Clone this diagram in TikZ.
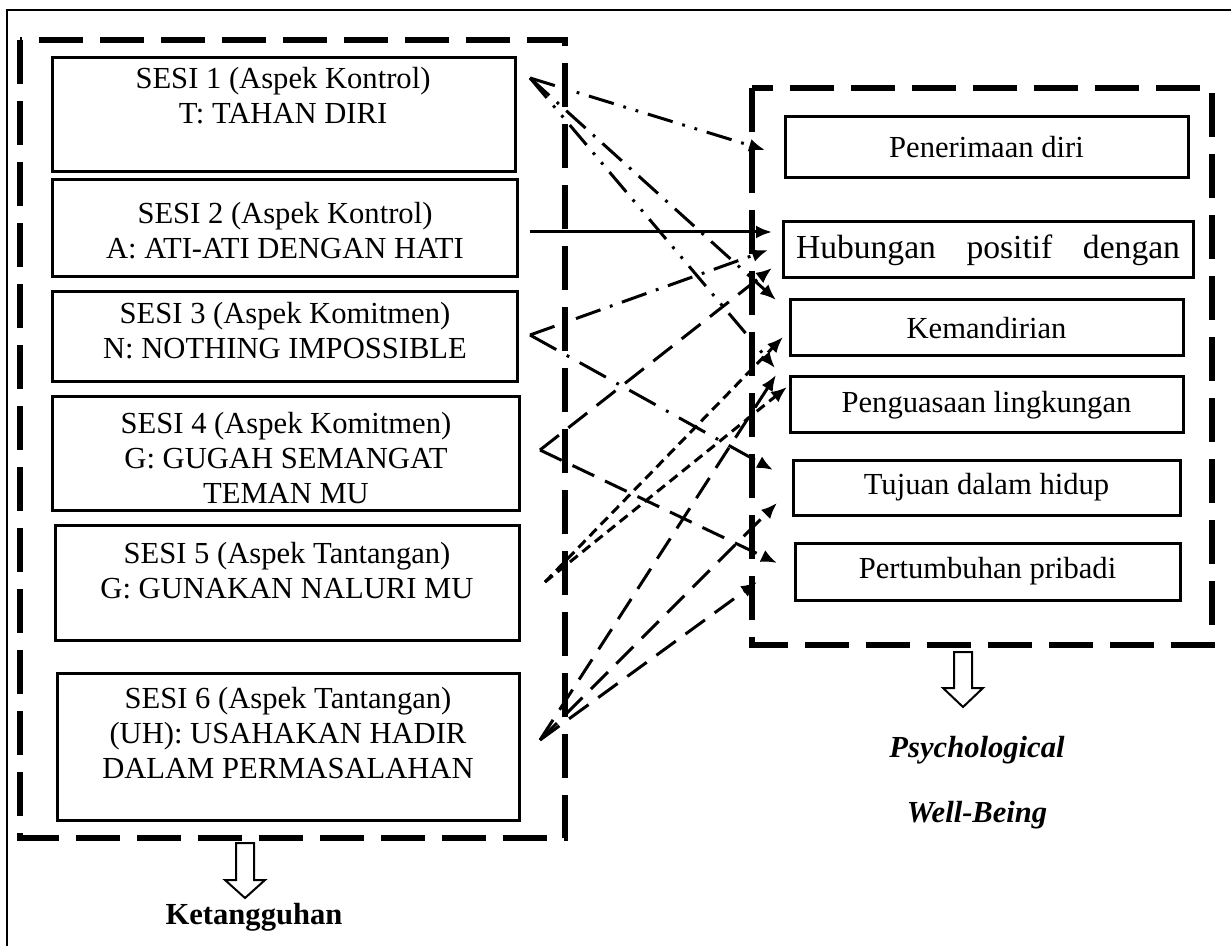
\documentclass[tikz,border=0pt]{standalone}
\usepackage{fontspec}
\setmainfont{Liberation Serif}
\usetikzlibrary{arrows.meta}
\newcommand\mybox[5]{\node[box, minimum width={(#4-#2)*0.5pt}, minimum height={(#5-#3)*0.5pt}] (#1) at ({(#2+#4)/2},{(#3+#5)/2}) {};}
\newcommand\myrbox[6]{\node[box, rtxt, minimum width={(#4-#2)*0.5pt}, minimum height={(#5-#3)*0.5pt}] (#1) at ({(#2+#4)/2},{(#3+#5)/2}) {#6};}
\begin{document}
\begin{tikzpicture}[x=0.5pt,y=-0.5pt,
  outerframe/.style={line width=1pt},
  grp/.style={line width=2.6pt, dash pattern=on 22pt off 8.5pt},
  box/.style={draw, line width=1.5pt, inner sep=0pt},
  txt/.style={font=\fontsize{15.3}{17.5}\selectfont, align=center, inner sep=0pt, anchor=north},
  rtxt/.style={font=\fontsize{15.3}{17.5}\selectfont},
  con/.style={line width=1.5pt, -{Latex[length=8pt,width=6.5pt]}},
  ddot/.style={dash pattern=on 13pt off 5pt on 1.4pt off 5pt on 1.4pt off 5pt},
  dashdot/.style={dash pattern=on 13pt off 5pt on 1.4pt off 5pt},
  ldashdot/.style={dash pattern=on 15pt off 6pt on 1.4pt off 6pt},
  ldash/.style={dash pattern=on 12pt off 6pt},
  sdash/.style={dash pattern=on 5pt off 3pt},
  hollow/.style={line width=1pt, fill=white},
  lbl/.style={font=\fontsize{15.3}{17.5}\selectfont\bfseries, inner sep=0pt}
]
\useasboundingbox (0,0) rectangle (1231,946);
\fill[white] (0,0) rectangle (1231,946);
% outer frame
\draw[outerframe] (7,946) -- (7,10) -- (1231,10);
% group frames
\draw[grp] (20,40) rectangle (565,838);
\draw[grp] (752,88) rectangle (1212,645);
% left texts
\node[txt] (t1) at (283,67) {SESI 1 (Aspek Kontrol)\\T: TAHAN DIRI};
\node[txt] (t2) at (285,202) {SESI 2 (Aspek Kontrol)\\A: ATI-ATI DENGAN HATI};
\node[txt] (t3) at (285,302) {SESI 3 (Aspek Komitmen)\\N: NOTHING IMPOSSIBLE};
\begin{scope}
\clip (52,397) rectangle (519,505);
\node[txt] (t4) at (286,412) {SESI 4 (Aspek Komitmen)\\G: GUGAH SEMANGAT\\TEMAN MU};
\end{scope}
\node[txt] (t5) at (287,542) {SESI 5 (Aspek Tantangan)\\G: GUNAKAN NALURI MU};
\node[txt] (t6) at (288,687) {SESI 6 (Aspek Tantangan)\\(UH): USAHAKAN HADIR\\DALAM PERMASALAHAN};
% left boxes
\mybox{s1}{52}{58}{515}{172}
\mybox{s2}{52}{180}{517}{277}
\mybox{s3}{52}{292}{517}{382}
\mybox{s4}{52}{397}{519}{510}
\mybox{s5}{55}{525}{519}{640}
\mybox{s6}{57}{673}{519}{820}
% right boxes
\myrbox{pen}{785}{117}{1188}{178}{Penerimaan diri}
\myrbox{hub}{783}{222}{1193}{278}{\fontsize{16.8}{19}\selectfont\makebox[192pt][s]{Hubungan\hfill positif\hfill dengan}}
\myrbox{kem}{790}{300}{1183}{356}{Kemandirian}
\myrbox{peng}{790}{377}{1183}{433}{Penguasaan lingkungan}
\myrbox{tuj}{793}{460}{1180}{515}{Tujuan dalam hidup}
\myrbox{pert}{795}{543}{1180}{600}{Pertumbuhan pribadi}
% connector ends
\coordinate (s1a) at (530,78);
\coordinate (s2a) at (530,232);
\coordinate (s3a) at (530,335);
\coordinate (s4a) at (540,450);
\coordinate (s5a) at (545,582);
\coordinate (s6a) at (540,740);
\coordinate (e1) at (765,150);
\coordinate (e2) at (776,300);
\coordinate (e3) at (775,368);
\coordinate (e4) at (772,232);
\coordinate (e5) at (768,250);
\coordinate (e6) at (773,470);
\coordinate (e7) at (772,268);
\coordinate (e8) at (777,563);
\coordinate (e9) at (783,337);
\coordinate (e10) at (787,387);
\coordinate (e11) at (776,375);
\coordinate (e12) at (777,503);
\coordinate (e13) at (757,582);
% connectors
\draw[con,ddot] (s1a) -- (e1);
\draw[con,dashdot] (s1a) -- (e2);
\draw[con,ddot] (s1a) -- (e3);
\draw[con] (s2a) -- (e4);
\draw[con,dashdot] (s3a) -- (e5);
\draw[con,ldashdot] (s3a) -- (e6);
\draw[con,ldash] (s4a) -- (e7);
\draw[con,ldash] (s4a) -- (e8);
\draw[con,sdash] (s5a) -- (e9);
\draw[con,sdash] (s5a) -- (e10);
\draw[con,ldash] (s6a) -- (e11);
\draw[con,ldash] (s6a) -- (e12);
\draw[con,ldash] (s6a) -- (e13);
% hollow down arrows
\draw[hollow] (236,843) -- (254,843) -- (254,880) -- (265,880) -- (245,898) -- (225,880) -- (236,880) -- cycle;
\draw[hollow] (954,652) -- (972,652) -- (972,688) -- (983,688) -- (963,707) -- (943,688) -- (954,688) -- cycle;
% labels
\node[lbl] (ket) at (254,917) {Ketangguhan};
\node[lbl, font=\fontsize{15.3}{17.5}\selectfont\bfseries\itshape] (psy) at (977,750) {Psychological};
\node[lbl, font=\fontsize{15.3}{17.5}\selectfont\bfseries\itshape] (wb) at (977,815) {Well-Being};
\end{tikzpicture}
\end{document}
